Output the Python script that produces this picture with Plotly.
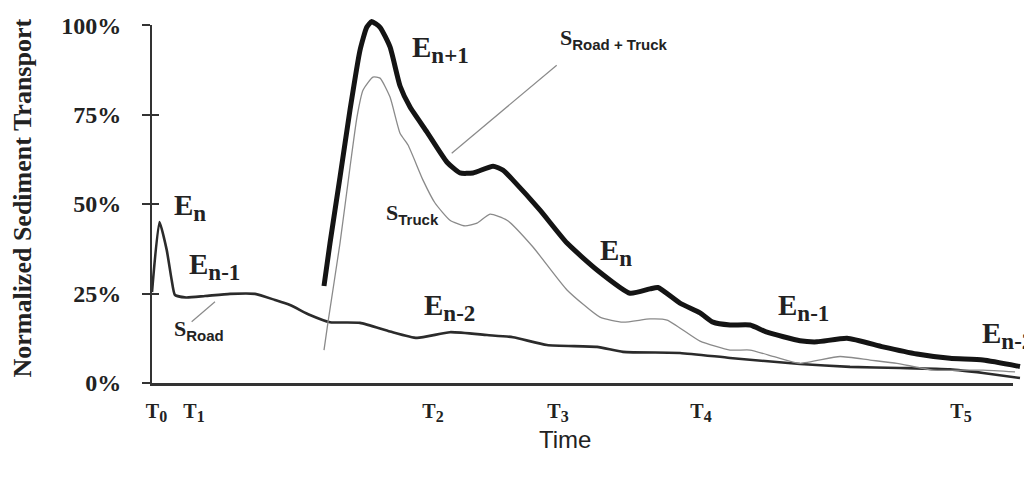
import plotly.graph_objects as go

# ---- data: normalized sediment transport (%) against time (arbitrary units 0-100) ----
road_t = [0.0, 0.86, 1.69, 2.26, 2.64, 3.91, 6.09, 8.97, 11.84, 14.14, 15.86, 18.16,
          20.46, 23.91, 27.36, 30.46, 34.25, 38.51, 41.49, 45.40, 51.15, 54.14,
          60.69, 66.44, 74.48, 80.23, 85.98, 91.72, 95.52, 99.77]
road_v = [25.4, 45.0, 37.2, 28.8, 24.6, 23.9, 24.3, 24.9, 24.9, 23.2, 21.8, 19.0,
          17.0, 16.8, 14.4, 12.6, 14.2, 13.4, 12.8, 10.6, 10.1, 8.7,
          8.4, 7.0, 5.3, 4.5, 4.2, 3.8, 2.8, 1.4]

truck_t = [19.77, 20.23, 21.61, 22.76, 23.56, 24.25, 25.40, 26.21, 27.36, 28.51,
           29.43, 31.15, 32.53, 34.25, 35.98, 37.36, 38.85, 40.80, 43.79, 47.70,
           51.49, 54.14, 57.24, 59.20, 62.99, 66.44, 68.74, 71.61, 74.48, 79.08,
           82.53, 85.63, 89.77, 95.52, 99.20]
truck_v = [9.2, 17.0, 39.1, 60.3, 74.3, 81.8, 85.5, 85.2, 79.9, 69.8,
           66.5, 56.7, 50.3, 45.5, 43.9, 44.7, 47.2, 45.5, 38.0, 26.0,
           18.4, 17.0, 17.9, 17.6, 11.7, 9.2, 9.2, 7.3, 5.5, 7.4,
           6.4, 5.5, 3.6, 3.6, 3.1]

total_t = [19.77, 20.46, 21.61, 22.76, 23.91, 24.68, 25.25, 26.21, 27.36, 28.51,
           29.66, 31.61, 33.91, 35.40, 36.90, 39.20, 40.34, 41.49, 44.60, 47.70,
           51.15, 54.94, 57.24, 58.16, 60.69, 62.99, 64.48, 66.44, 68.74, 70.69,
           74.48, 76.44, 79.89, 84.02, 87.93, 91.72, 95.52, 99.77]
total_v = [27.1, 39.1, 57.5, 76.3, 93.0, 99.4, 101.0, 99.4, 93.9, 83.0,
           77.1, 70.1, 61.7, 58.7, 58.7, 60.6, 59.5, 56.7, 48.3, 39.1,
           31.6, 25.1, 26.3, 26.7, 22.3, 19.6, 17.0, 16.2, 16.2, 14.2,
           11.8, 11.5, 12.5, 10.1, 8.1, 6.9, 6.4, 4.6]

# time marks on the x axis
t_ticks = [0.52, 4.83, 32.30, 46.67, 63.10, 92.99]
t_names = ["0", "1", "2", "3", "4", "5"]

y_ticks = [0, 25, 50, 75, 100]
y_names = ["0%", "25%", "50%", "75%", "100%"]

# event / series labels: (t, value, text)
E = "E<sub><span style='font-size:23px'>{}</span></sub>"
S = "S<sub><span style='font-family:Liberation Sans;font-size:15px'>{}</span></sub>"
label_t = [2.30, 4.02, 29.66, 31.03, 51.26, 71.72, 95.17, 46.67, 26.67, 2.30]
label_v = [49.0, 32.5, 93.3, 21.1, 36.6, 21.1, 13.4, 96.1, 47.2, 14.9]
label_txt = [E.format("n"), E.format("n-1"), E.format("n+1"), E.format("n-2"),
             E.format("n"), E.format("n-1"), E.format("n-2"),
             S.format("Road + Truck"), S.format("Truck"), S.format("Road")]
label_size = [29, 29, 29, 29, 29, 29, 29, 22, 22, 22]

# leader lines from series names to their curves
lead_t0 = [4.56, 34.45]
lead_v0 = [17.1, 64.2]
lead_t1 = [7.24, 46.52]
lead_v1 = [22.7, 88.8]

SERIF = "Liberation Serif, Times New Roman, serif"
SANS = "Liberation Sans, Arial, sans-serif"
INK = "#222222"

fig = go.Figure()
fig.add_trace(go.Scatter(x=road_t, y=road_v, mode="lines",
                         line=dict(color="#2b2b2b", width=2.6, shape="spline", smoothing=0.5),
                         hoverinfo="skip", showlegend=False))
fig.add_trace(go.Scatter(x=truck_t, y=truck_v, mode="lines",
                         line=dict(color="#8a8a8a", width=1.3, shape="spline", smoothing=0.5),
                         hoverinfo="skip", showlegend=False))
fig.add_trace(go.Scatter(x=total_t, y=total_v, mode="lines",
                         line=dict(color="#141414", width=5, shape="spline", smoothing=0.5),
                         hoverinfo="skip", showlegend=False))

# empty traces that attach the frame axes (axis line + ticks) so they are drawn
fig.add_trace(go.Scatter(x=[], y=[], xaxis="x2", yaxis="y2", mode="lines",
                         hoverinfo="skip", showlegend=False))
fig.add_trace(go.Scatter(x=[], y=[], xaxis="x2", yaxis="y3", mode="lines",
                         hoverinfo="skip", showlegend=False))

for a0, b0, a1, b1 in zip(lead_t0, lead_v0, lead_t1, lead_v1):
    fig.add_shape(type="line", xref="x", yref="y", x0=a0, y0=b0, x1=a1, y1=b1,
                  line=dict(color="#8a8a8a", width=1.2))

for tx, vy, txt, fs in zip(label_t, label_v, label_txt, label_size):
    fig.add_annotation(x=tx, y=vy, xref="x", yref="y", text=txt, showarrow=False,
                       xanchor="left", yanchor="middle",
                       font=dict(family=SERIF, size=fs, color=INK, weight="bold"))

fig.add_annotation(text="Normalized Sediment Transport", xref="paper", yref="paper",
                   x=-0.1483, y=0.508, xanchor="center", yanchor="middle",
                   textangle=-90, showarrow=False,
                   font=dict(family=SERIF, size=26, color=INK, weight="bold"))
fig.add_annotation(text="Time", xref="paper", yref="paper", x=0.4747, y=-0.156,
                   xanchor="center", yanchor="middle", showarrow=False,
                   font=dict(family=SANS, size=24, color=INK))

tick_text = ["T<sub><span style='font-size:16px'>{}</span></sub>".format(n) for n in t_names]

fig.update_layout(
    width=1024, height=480,
    margin=dict(l=152, r=2, t=18, b=97),
    paper_bgcolor="white", plot_bgcolor="rgba(0,0,0,0)",
    xaxis=dict(domain=[0, 1], range=[0, 100], showline=False, showgrid=False,
               zeroline=False, ticks="", tickvals=t_ticks, ticktext=tick_text,
               ticklabelstandoff=14,
               tickfont=dict(family=SERIF, size=20, color=INK, weight="bold")),
    xaxis2=dict(domain=[0, 0.9897], range=[0, 98.97], anchor="y2", showline=True,
                linecolor="#333333", linewidth=2.8, showgrid=False, zeroline=False,
                showticklabels=False, ticks=""),
    yaxis=dict(domain=[0, 1], range=[0, 102], visible=False),
    yaxis2=dict(domain=[0, 100 / 102], range=[0, 100], anchor="x2", side="left",
                showline=True, linecolor="#333333", linewidth=2, showgrid=False,
                zeroline=False, ticks="outside", ticklen=8, tickwidth=2,
                tickcolor="#333333", tickvals=y_ticks, ticktext=y_names,
                ticklabelstandoff=16,
                tickfont=dict(family=SERIF, size=24, color=INK, weight="bold")),
    yaxis3=dict(overlaying="y2", range=[0, 100], anchor="x2", side="left",
                showline=False, showgrid=False, zeroline=False, ticks="inside",
                ticklen=7, tickwidth=2, tickcolor="#333333", tickvals=y_ticks,
                showticklabels=False),
)

fig.write_html("out.html")
